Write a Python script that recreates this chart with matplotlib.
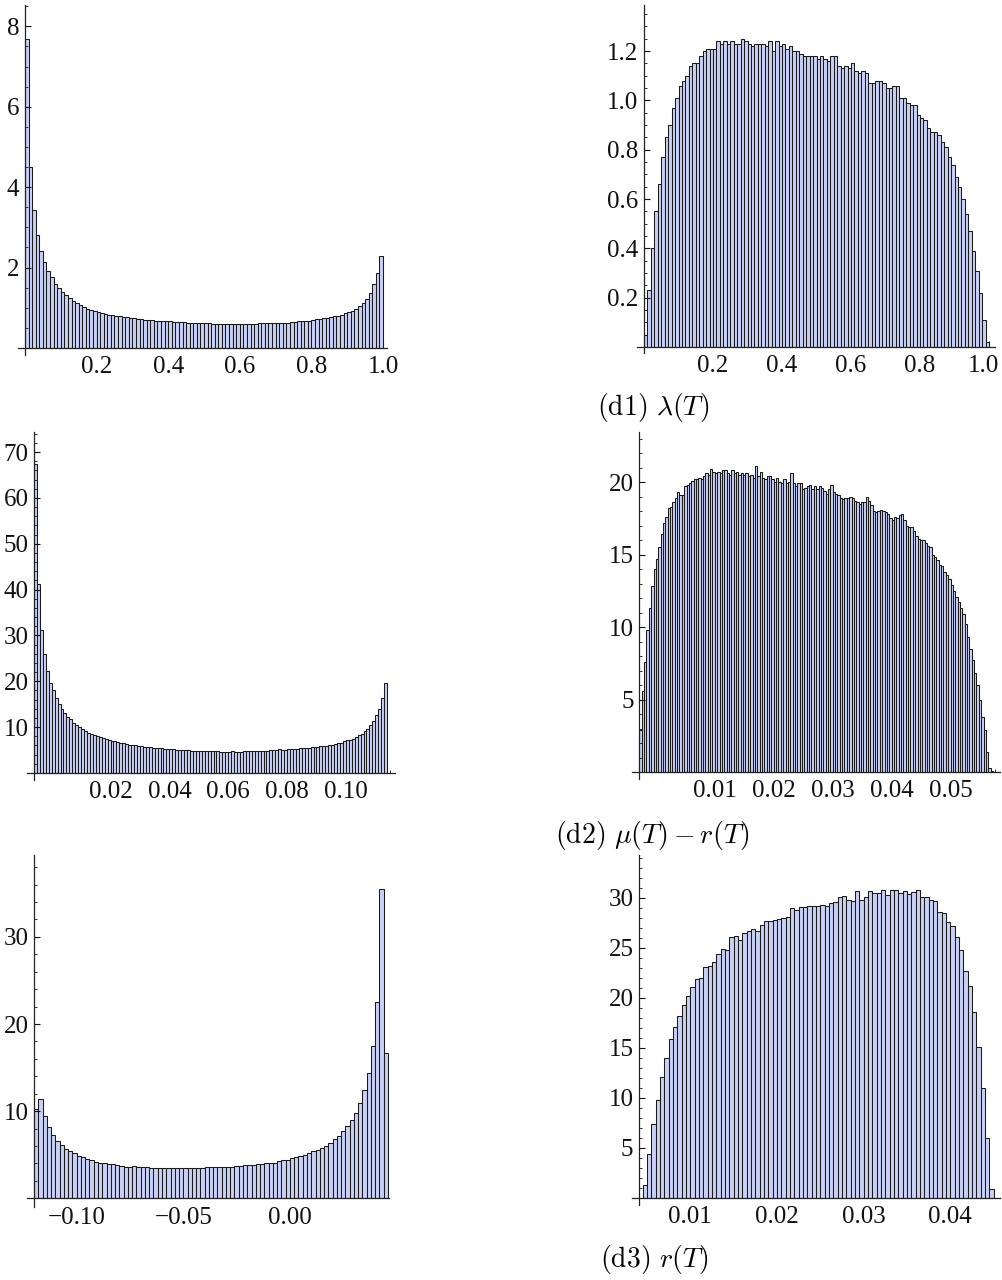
import matplotlib
matplotlib.use('Agg')
import matplotlib.pyplot as plt
from matplotlib.ticker import FixedLocator, MultipleLocator
from matplotlib.transforms import ScaledTranslation

plt.rcParams['mathtext.fontset'] = 'cm'
plt.rcParams['font.family'] = ['Liberation Serif', 'DejaVu Serif']

W, H = 1002, 1280

# ---------------- data ----------------
# (d1) lambda(T): left and right histograms, bins of 0.01 on [0, 1]
lam_left_start, lam_left_width = 0.0, 0.01
lam_left = [7.69, 4.51, 3.42, 2.82, 2.40, 2.15, 1.91, 1.76, 1.60, 1.50,
            1.40, 1.31, 1.24, 1.18, 1.11, 1.06, 1.01, 0.96, 0.94, 0.91,
            0.89, 0.87, 0.85, 0.83, 0.81, 0.80, 0.79, 0.77, 0.76, 0.75,
            0.74, 0.73, 0.72, 0.70, 0.70, 0.69, 0.68, 0.68, 0.67, 0.66,
            0.66, 0.65, 0.65, 0.64, 0.65, 0.63, 0.63, 0.63, 0.62, 0.62,
            0.62, 0.61, 0.60, 0.60, 0.60, 0.59, 0.60, 0.59, 0.59, 0.60,
            0.59, 0.59, 0.60, 0.60, 0.60, 0.61, 0.61, 0.62, 0.62, 0.63,
            0.62, 0.62, 0.63, 0.63, 0.64, 0.65, 0.66, 0.66, 0.67, 0.68,
            0.70, 0.71, 0.72, 0.74, 0.75, 0.77, 0.79, 0.80, 0.83, 0.86,
            0.89, 0.93, 0.98, 1.04, 1.11, 1.21, 1.38, 1.58, 1.86, 2.30]

lam_right_start, lam_right_width = 0.0, 0.01
lam_right = [0.05, 0.23, 0.40, 0.55, 0.66, 0.77, 0.85, 0.90, 0.97, 1.01,
             1.06, 1.08, 1.10, 1.14, 1.15, 1.15, 1.18, 1.20, 1.21, 1.21,
             1.21, 1.24, 1.23, 1.24, 1.23, 1.24, 1.23, 1.23, 1.25, 1.24,
             1.23, 1.22, 1.23, 1.23, 1.23, 1.22, 1.24, 1.20, 1.24, 1.22,
             1.23, 1.21, 1.22, 1.20, 1.20, 1.19, 1.18, 1.18, 1.18, 1.18,
             1.17, 1.18, 1.17, 1.16, 1.18, 1.18, 1.14, 1.13, 1.14, 1.13,
             1.15, 1.12, 1.11, 1.12, 1.11, 1.07, 1.07, 1.08, 1.08, 1.07,
             1.05, 1.05, 1.06, 1.06, 1.01, 1.01, 0.99, 0.98, 0.98, 0.94,
             0.93, 0.92, 0.89, 0.87, 0.87, 0.86, 0.83, 0.81, 0.77, 0.74,
             0.69, 0.65, 0.60, 0.54, 0.47, 0.39, 0.31, 0.22, 0.11, 0.02]

# (d2) mu(T) - r(T)
mu_left_start, mu_left_width = -0.006, 0.001
mu_left = [67.4, 41.3, 31.2, 26.0, 22.3, 19.7, 18.0, 16.3, 15.0, 13.9,
           13.0, 12.3, 11.7, 10.9, 10.4, 10.1, 9.5, 9.2, 8.8, 8.5,
           8.2, 8.0, 7.8, 7.7, 7.5, 7.2, 7.0, 7.0, 6.7, 6.6,
           6.6, 6.4, 6.2, 6.1, 6.1, 5.9, 5.8, 5.7,
           5.6, 5.6, 5.5, 5.5, 5.4, 5.4, 5.3, 5.3, 5.2, 5.2, 5.1, 5.1,
           5.0, 5.0, 5.0, 4.9, 4.9, 4.9, 4.8, 4.9, 4.8, 4.8,
           4.7, 4.7, 4.7, 4.6, 4.6, 4.6, 4.6, 4.7, 4.6, 4.6,
           4.6, 4.7, 4.7, 4.7, 4.8, 4.8, 4.8, 4.9, 4.9, 4.9,
           5.0, 5.0, 5.1, 5.2, 5.0, 5.1, 5.2, 5.2, 5.3, 5.3,
           5.4, 5.4, 5.5, 5.5, 5.6, 5.6, 5.7, 5.8,
           5.8, 5.9, 6.1, 6.2, 6.4, 6.5, 6.6, 6.9, 7.1, 7.3,
           7.5, 7.9, 8.2, 8.6, 9.1, 9.7, 10.4, 11.3, 12.6, 13.9,
           16.3, 19.6]

mu_right_start, mu_right_width = -0.0028, 0.0004
mu_right = [2.9, 5.6, 7.6, 9.8, 11.3, 12.8, 14.0, 14.7, 15.5, 16.4,
            17.2, 17.6, 18.2, 18.3, 18.6, 18.9, 19.3, 19.1, 19.1, 19.7,
            19.8, 19.9, 20.1, 20.2, 20.2, 20.3, 20.2, 20.4, 20.6, 20.5,
            20.9, 20.7, 20.6, 20.7, 20.6, 20.8, 20.8, 20.6, 20.5, 20.8,
            20.6, 20.7, 20.5,
            20.6, 20.5, 20.6, 20.4, 20.5, 20.3, 21.1, 20.4, 20.7, 20.3,
            20.2, 20.4, 20.4, 20.2, 20.0, 20.3, 20.0,
            19.9, 20.2, 19.9, 20.0, 20.6, 19.9, 19.7, 19.9, 19.9, 19.5,
            19.6, 19.7, 19.8, 19.5, 19.7, 19.5, 19.7, 19.6, 19.4, 19.2,
            19.5, 19.8, 19.3, 19.2, 19.1, 18.9, 18.8, 18.9, 18.9, 19.0,
            18.9, 18.7,
            18.6, 18.5, 18.6, 18.6, 19.0, 18.7, 18.4,
            18.0, 17.9, 18.0, 18.1, 18.0, 17.9, 17.8, 17.5, 17.4, 17.6,
            17.5, 17.7,
            17.8, 17.4, 17.0, 16.9, 16.9, 16.6, 16.3, 16.1, 16.0, 16.0,
            15.8, 15.6, 15.5, 15.0, 14.8, 14.6, 14.3, 14.2, 13.8, 13.6,
            13.3, 12.9, 12.5, 12.1, 11.7, 11.3, 10.9, 10.2, 9.3, 8.5,
            7.7, 6.8, 6.0, 5.0, 3.8, 2.9, 1.4, 0.25, 0.1]

# (d3) r(T)
r_left_start, r_left_width = -0.12, 0.002
r_left = [10.2, 11.45, 9.4, 8.2, 7.3, 6.6, 6.1, 5.7, 5.4, 5.2,
          4.9, 4.7, 4.5, 4.4, 4.2, 4.1, 4.0, 3.95,
          3.9, 3.8, 3.75, 3.65, 3.6, 3.7, 3.6, 3.55, 3.55, 3.5,
          3.5, 3.45, 3.45, 3.5, 3.45, 3.5, 3.45, 3.45, 3.45, 3.45,
          3.5, 3.5,
          3.55, 3.55, 3.6, 3.6, 3.6, 3.65, 3.65, 3.7, 3.75, 3.8,
          3.8, 3.85, 3.9, 3.95, 4.0, 4.05, 4.1, 4.25, 4.35, 4.4,
          4.6, 4.7, 4.9, 5.0, 5.2, 5.4, 5.6, 5.8, 6.05, 6.4,
          6.8, 7.2, 7.7, 8.3, 9.0, 9.8, 10.9, 12.4, 14.4, 17.5,
          22.5, 35.5, 16.7]

r_right_start, r_right_width = 0.0045, 0.0005
r_right = [1.27, 4.43, 7.43, 9.77, 12.1, 13.97, 15.9, 17.07, 18.17, 19.27,
           20.23, 21.1, 21.93, 22.0, 23.07, 23.17, 23.63, 24.4, 24.93, 24.77,
           26.07, 26.17, 25.83, 26.5, 26.67, 26.9, 26.67, 27.33, 27.73, 27.67,
           27.77, 27.9, 28.0, 28.1, 29.0, 28.83, 29.07, 29.07, 29.17, 29.17,
           29.25,
           29.33, 29.17, 29.5, 29.57, 30.1, 30.23, 29.83, 29.73, 30.67, 29.83,
           30.1, 30.67, 30.5, 30.5, 30.83, 30.33, 30.83, 30.77, 30.5, 30.67,
           30.43, 30.57, 30.83, 30.1, 30.1, 29.83, 29.67, 28.57, 28.5, 27.57,
           27.23, 26.07, 24.83, 22.73, 21.23, 18.57, 15.1, 11.0, 6.0, 0.9]

# tick values / labels
lam_xticks = [0.2, 0.4, 0.6, 0.8, 1.0]
lam_xlabels = ['0.2', '0.4', '0.6', '0.8', '1.0']
lam_left_yticks = [2, 4, 6, 8]
lam_right_yticks = [0.2, 0.4, 0.6, 0.8, 1.0, 1.2]
lam_right_ylabels = ['0.2', '0.4', '0.6', '0.8', '1.0', '1.2']
mu_left_xticks = [0.02, 0.04, 0.06, 0.08, 0.10]
mu_left_xlabels = ['0.02', '0.04', '0.06', '0.08', '0.10']
mu_left_yticks = [10, 20, 30, 40, 50, 60, 70]
mu_right_xticks = [0.01, 0.02, 0.03, 0.04, 0.05]
mu_right_xlabels = ['0.01', '0.02', '0.03', '0.04', '0.05']
mu_right_yticks = [5, 10, 15, 20]
r_left_xticks = [-0.10, -0.05, 0.00]
r_left_xlabels = ['\u22120.10', '\u22120.05', '0.00']
r_left_yticks = [10, 20, 30]
r_right_xticks = [0.01, 0.02, 0.03, 0.04]
r_right_xlabels = ['0.01', '0.02', '0.03', '0.04']
r_right_yticks = [5, 10, 15, 20, 25, 30]

captions = [r'$\mathrm{(d1)}\ \lambda(T)$',
            r'$\mathrm{(d2)}\ \mu(T)-r(T)$',
            r'$\mathrm{(d3)}\ r(T)$']

# ---------------- drawing ----------------
FILL = '#C8D0F5'
EDGE = '#1a1a1a'
TICK_FS = 18

fig = plt.figure(figsize=(W / 100, H / 100), dpi=100)


def panel(box, xlim, ylim, yaxis_x, start, width, heights,
          xticks, xlabels, yticks, ylabels, yminor, xminor):
    l, t, r, b = box
    ax = fig.add_axes([l / W, 1 - b / H, (r - l) / W, (b - t) / H])
    edges = [start + i * width for i in range(len(heights))]
    ax.bar(edges, heights, width=width, align='edge', color=FILL,
           edgecolor=EDGE, linewidth=0.75)
    ax.set_xlim(*xlim)
    ax.set_ylim(*ylim)
    ax.patch.set_visible(False)
    for s in ('top', 'right'):
        ax.spines[s].set_visible(False)
    ax.spines['left'].set_position(('data', yaxis_x))
    ax.spines['bottom'].set_position(('data', 0))
    for s in ('left', 'bottom'):
        ax.spines[s].set_linewidth(0.9)
        ax.spines[s].set_color('#222222')
        ax.spines[s].set_zorder(4)
    ax.xaxis.set_major_locator(FixedLocator(xticks))
    ax.set_xticklabels(xlabels)
    ax.yaxis.set_major_locator(FixedLocator(yticks))
    ax.set_yticklabels(ylabels if ylabels is not None else [str(v) for v in yticks])
    ax.yaxis.set_minor_locator(MultipleLocator(yminor))
    ax.xaxis.set_minor_locator(MultipleLocator(xminor))
    ax.tick_params(axis='y', which='major', direction='in', length=4.5,
                   width=0.8, pad=4, labelsize=TICK_FS, colors='#111111')
    ax.tick_params(axis='y', which='minor', direction='in', length=2.5,
                   width=0.6, colors='#111111')
    ax.tick_params(axis='x', which='major', direction='in', length=4.5,
                   width=0.8, pad=6, labelsize=TICK_FS, colors='#111111')
    ax.tick_params(axis='x', which='minor', direction='in', length=2.5,
                   width=0.6, colors='#111111')
    ax.xaxis.set_zorder(0.5)
    ax.yaxis.set_zorder(3)
    return ax


panel((17.8, 5, 387.3, 355), (-0.0201, 1.012), (-0.174, 8.53), 0.0,
      lam_left_start, lam_left_width, lam_left,
      lam_xticks, lam_xlabels, lam_left_yticks, None, 0.5, 0.05)
ax2 = panel((637.1, 5, 994.9, 353), (-0.02, 1.017), (-0.0243, 1.387), 0.0,
            lam_right_start, lam_right_width, lam_right,
            lam_xticks, lam_xlabels, lam_right_yticks, lam_right_ylabels, 0.05, 0.05)
# keep the last label of the top-right panel inside the figure
last = ax2.get_xticklabels()[-1]
last.set_transform(last.get_transform() + ScaledTranslation(-0.06, 0, fig.dpi_scale_trans))

ax4 = panel((631.7, 432, 1000, 779), (-0.0041, 0.0584), (-0.48, 23.45), -0.0028,
            mu_right_start, mu_right_width, mu_right,
            mu_right_xticks, mu_right_xlabels, mu_right_yticks, None, 1, 0.0025)
panel((27, 432, 395, 780), (-0.0084, 0.1167), (-1.53, 74.4), -0.006,
      mu_left_start, mu_left_width, mu_left,
      mu_left_xticks, mu_left_xlabels, mu_left_yticks, None, 2, 0.005)
panel((27, 855, 389.5, 1206.7), (-0.1233, 0.0467), (-0.96, 39.4), -0.12,
      r_left_start, r_left_width, r_left,
      r_left_xticks, r_left_xlabels, r_left_yticks, None, 2, 0.01)
panel((631.7, 855, 1000, 1205), (0.00323, 0.04573), (-0.7, 34.3), 0.00407,
      r_right_start, r_right_width, r_right,
      r_right_xticks, r_right_xlabels, r_right_yticks, None, 1, 0.0025)

for (cx, cy), txt in zip([(653, 408), (652, 835), (654, 1260)], captions):
    fig.text(cx / W, 1 - cy / H, txt, ha='center', va='center', fontsize=20)

fig.savefig('out.png', dpi=100)
